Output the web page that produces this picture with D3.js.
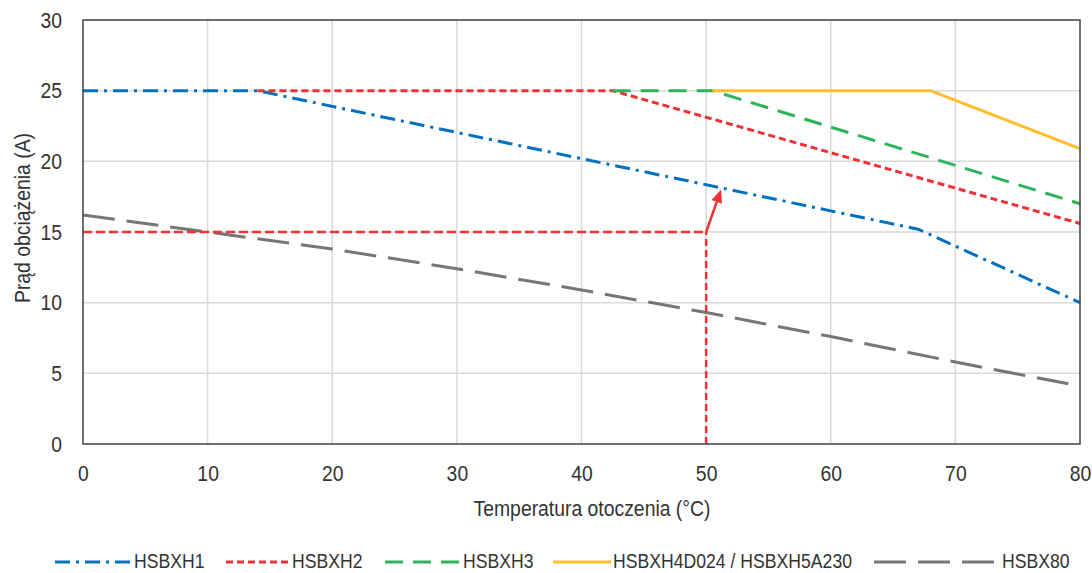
<!DOCTYPE html>
<html>
<head>
<meta charset="utf-8">
<script src="https://cdn.jsdelivr.net/npm/d3@7"></script>
<style>
  body { margin: 0; background: #ffffff; }
  svg { display: block; }
</style>
</head>
<body>
<svg id="chart" width="1092" height="573"></svg>
<script>
// Derating curves: load current (A) versus ambient temperature (°C)
const xTicks = [0, 10, 20, 30, 40, 50, 60, 70, 80];
const yTicks = [0, 5, 10, 15, 20, 25, 30];

const hsbxh1 = [[0, 25], [14, 25], [67, 15.2], [80, 10]];
const hsbxh2 = [[14, 25], [42.5, 25], [80, 15.6]];
const hsbxh3 = [[42.5, 25], [50.5, 25], [80, 17]];
const hsbxh4 = [[50.5, 25], [68, 25], [80, 20.9]];
const hsbx80 = [[0, 16.2], [10, 15.0], [20, 13.8], [30, 12.4], [40, 10.9], [50, 9.3], [60, 7.6], [70, 5.8], [80, 4.1]];

const seriesNames = ["HSBXH1", "HSBXH2", "HSBXH3", "HSBXH4D024 / HSBXH5A230", "HSBX80"];

// Worked example: 15 A at 50 °C, pointing up to the HSBXH1 curve
const exampleTemp = 50;
const exampleCurrent = 15;
const exampleTarget = [51.2, 18.0];

const svg = d3.select("#chart");
const plot = { left: 83, right: 1080, top: 20, bottom: 444 };

const x = d3.scaleLinear().domain([0, 80]).range([plot.left, plot.right]);
const y = d3.scaleLinear().domain([0, 30]).range([plot.bottom, plot.top]);

const FONT = "'Liberation Sans', Arial, sans-serif";
const TEXT = "#333333";
const SX = 0.88; // narrow letterforms

const styles = [
  { data: hsbxh1, color: "#0070C0", dash: "15,6,3,6" },
  { data: hsbxh2, color: "#EE3236", dash: "7,4" },
  { data: hsbxh3, color: "#2EB35B", dash: "18,10" },
  { data: hsbxh4, color: "#FDBF2D", dash: null },
  { data: hsbx80, color: "#767676", dash: "32,12" }
];

// Grid
svg.append("g")
  .selectAll("line.v")
  .data(xTicks.slice(1, -1))
  .join("line")
  .attr("x1", d => x(d)).attr("x2", d => x(d))
  .attr("y1", plot.top).attr("y2", plot.bottom)
  .attr("stroke", "#D9D9D9").attr("stroke-width", 1.5);
svg.append("g")
  .selectAll("line.h")
  .data(yTicks.slice(1, -1))
  .join("line")
  .attr("x1", plot.left).attr("x2", plot.right)
  .attr("y1", d => y(d)).attr("y2", d => y(d))
  .attr("stroke", "#D9D9D9").attr("stroke-width", 1.5);

// Axes (labels only; the frame is drawn separately)
function styleTicks(g, padX) {
  g.select(".domain").remove();
  g.selectAll(".tick line").remove();
  g.selectAll("text")
    .attr("font-family", FONT)
    .attr("font-size", 22)
    .attr("fill", TEXT)
    .attr("transform", `scale(${SX},1)`);
  if (padX !== undefined) g.selectAll("text").attr("x", padX / SX);
}

svg.append("g")
  .attr("transform", `translate(0,${plot.bottom})`)
  .call(d3.axisBottom(x).tickValues(xTicks).tickSize(0).tickPadding(21))
  .call(g => styleTicks(g));

svg.append("g")
  .attr("transform", `translate(${plot.left},0)`)
  .call(d3.axisLeft(y).tickValues(yTicks).tickSize(0).tickPadding(21))
  .call(g => styleTicks(g, -21));

// Axis titles
svg.append("text")
  .attr("transform", `translate(592,516) scale(${SX},1)`)
  .attr("text-anchor", "middle")
  .attr("font-family", FONT).attr("font-size", 22).attr("fill", TEXT)
  .text("Temperatura otoczenia (°C)");

svg.append("text")
  .attr("transform", `translate(30,218) rotate(-90) scale(${SX},1)`)
  .attr("text-anchor", "middle")
  .attr("font-family", FONT).attr("font-size", 22).attr("fill", TEXT)
  .text("Prąd obciążenia (A)");

// Curves
const line = d3.line().x(d => x(d[0])).y(d => y(d[1]));
svg.append("g")
  .selectAll("path")
  .data(styles)
  .join("path")
  .attr("d", d => line(d.data))
  .attr("fill", "none")
  .attr("stroke", d => d.color)
  .attr("stroke-width", 3)
  .attr("stroke-dasharray", d => d.dash)
  .attr("stroke-linejoin", "round");

// Example reading lines
const red = "#EE3236";
svg.append("path")
  .attr("d", line([[0, exampleCurrent], [exampleTemp, exampleCurrent]]))
  .attr("fill", "none").attr("stroke", red).attr("stroke-width", 2.5)
  .attr("stroke-dasharray", "9,4");
svg.append("path")
  .attr("d", line([[exampleTemp, 0], [exampleTemp, exampleCurrent]]))
  .attr("fill", "none").attr("stroke", red).attr("stroke-width", 2.5)
  .attr("stroke-dasharray", "7,4");

// Arrow from the reading point to the curve
const p0 = [x(exampleTemp), y(exampleCurrent)];
const p1 = [x(exampleTarget[0]), y(exampleTarget[1])];
const ang = Math.atan2(p1[1] - p0[1], p1[0] - p0[0]);
const headLen = 13, headHalf = 5.5;
const base = [p1[0] - headLen * Math.cos(ang), p1[1] - headLen * Math.sin(ang)];
svg.append("line")
  .attr("x1", p0[0]).attr("y1", p0[1])
  .attr("x2", base[0]).attr("y2", base[1])
  .attr("stroke", red).attr("stroke-width", 2.5);
svg.append("path")
  .attr("d", d3.line()([
    p1,
    [base[0] + headHalf * Math.sin(ang), base[1] - headHalf * Math.cos(ang)],
    [base[0] - headHalf * Math.sin(ang), base[1] + headHalf * Math.cos(ang)]
  ]) + "Z")
  .attr("fill", red);

// Plot frame
svg.append("rect")
  .attr("x", plot.left).attr("y", plot.top)
  .attr("width", plot.right - plot.left).attr("height", plot.bottom - plot.top)
  .attr("fill", "none").attr("stroke", "#404040").attr("stroke-width", 1.5);

// Legend
const legendLayout = [
  { x0: 55, len: 77 },
  { x0: 226, len: 64 },
  { x0: 385, len: 76 },
  { x0: 553, len: 58 },
  { x0: 874, len: 126 }
];
const legendY = 562;
const LX = 0.84;
const lg = svg.append("g")
  .selectAll("g")
  .data(styles.map((s, i) => ({ ...s, name: seriesNames[i], ...legendLayout[i] })))
  .join("g");
lg.append("line")
  .attr("x1", d => d.x0).attr("x2", d => d.x0 + d.len)
  .attr("y1", legendY).attr("y2", legendY)
  .attr("stroke", d => d.color).attr("stroke-width", 3)
  .attr("stroke-dasharray", d => d.dash);
lg.append("text")
  .attr("transform", d => `translate(${d.x0 + d.len + 2},${legendY + 6}) scale(${LX},1)`)
  .attr("font-family", FONT).attr("font-size", 21).attr("fill", TEXT)
  .text(d => d.name);
</script>
</body>
</html>
